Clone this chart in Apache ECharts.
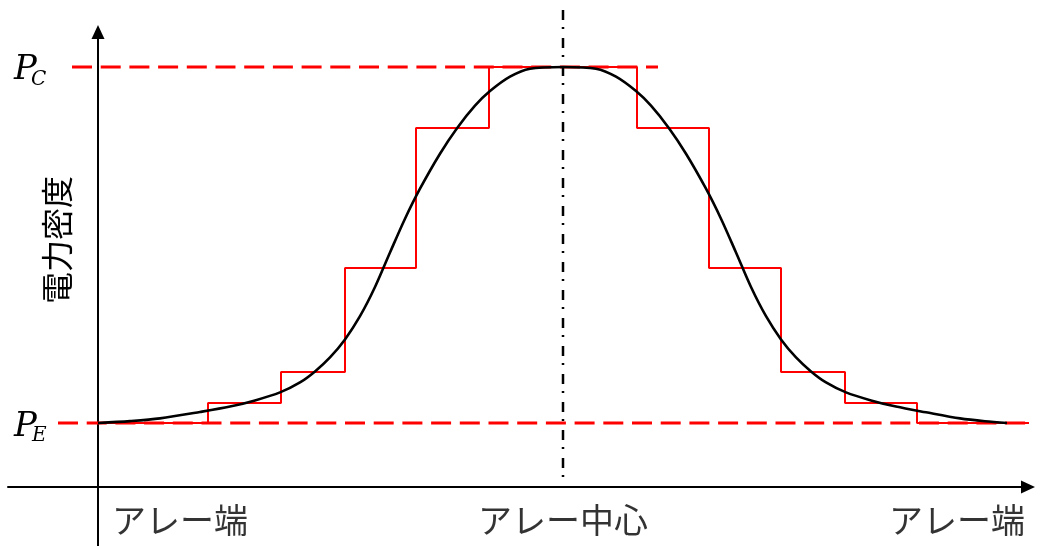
<!DOCTYPE html>
<html>
<head>
<meta charset="utf-8">
<script src="https://cdn.jsdelivr.net/npm/echarts@6/dist/echarts.min.js"></script>
<style>
  html, body { margin: 0; padding: 0; background: #fff; }
  #chart { width: 1043px; height: 546px; }
</style>
</head>
<body>
<div id="chart"></div>
<script>
// Power density profile across an array (schematic units).
// x: position measured from the left array edge, y: power density.
const P_E = 64;    // density at the array edge
const P_C = 420;   // density at the array center
const arrayCenter = 465;

// Segmented (stepped) density profile: segment boundaries and levels
const stepEdges  = [0, 110, 183, 247, 318, 391, 539, 611, 683, 747, 819, 932];
const stepLevels = [P_E, 84, 115, 219, 359, P_C, 359, 219, 115, 84, P_E];

// Continuous density profile
const curveX = [0, 32, 62, 102, 132, 157, 182, 202, 217, 232, 247, 262, 277, 292, 307, 322, 342, 359,
                377, 392, 412, 432, 465,
                498, 518, 538, 553, 571, 588, 608, 623, 638, 653, 668, 683, 698, 713, 728,
                748, 773, 798, 828, 862, 887, 909];
const curveY = [64, 65.9, 68.6, 75, 80.4, 86.6, 94.6, 104.6, 115.6, 129.6, 147.6, 170.8, 200, 234.5,
                268.3, 298.3, 333.3, 358.8, 381.3, 395.9, 410.3, 418.3, 420,
                418.3, 410.3, 395.9, 381.3, 358.8, 333.3, 298.3, 268.3, 234.5, 200, 170.8, 147.6,
                129.6, 115.6, 104.6, 94.6, 86.6, 80.4, 74.7, 68.6, 65.7, 64];

// Extents of the reference level lines and the center line
const pcLineX = [-26, 560];
const peLineX = [-40, 932];
const centerLineY = [477, 0];

// Position labels under the horizontal axis
const xLabels = ['アレー端', 'アレー中心', 'アレー端'];
const xLabelPos = [82, arrayCenter, 859];
const xLabelY = -33;

const RED = '#ff0000';
const BLACK = '#000000';

const stepData = [];
for (let i = 0; i < stepLevels.length; i++) {
  stepData.push([stepEdges[i], stepLevels[i]]);
  stepData.push([stepEdges[i + 1], stepLevels[i]]);
}
const curveData = curveX.map((x, i) => [x, curveY[i]]);

const chart = echarts.init(document.getElementById('chart'), null, { renderer: 'canvas' });

const axisCommon = {
  type: 'value',
  axisLine: {
    show: true,
    onZero: true,
    symbol: ['none', 'triangle'],
    symbolSize: [13, 14],
    lineStyle: { color: BLACK, width: 2 }
  },
  axisTick: { show: false },
  axisLabel: { show: false },
  splitLine: { show: false }
};

chart.setOption({
  animation: false,
  backgroundColor: '#ffffff',
  grid: { left: 8, right: 15, top: 32, bottom: 0, containLabel: false },
  xAxis: Object.assign({}, axisCommon, { min: -90, max: 930 }),
  yAxis: Object.assign({}, axisCommon, { min: -59, max: 455 }),
  series: [
    {
      name: 'P_E',
      type: 'line',
      data: [[peLineX[0], P_E], [peLineX[1], P_E]],
      symbol: 'none',
      lineStyle: { color: RED, width: 3, type: [20, 8.7] },
      z: 3
    },
    {
      name: 'P_C',
      type: 'line',
      data: [[pcLineX[0], P_C], [pcLineX[1], P_C]],
      symbol: 'none',
      lineStyle: { color: RED, width: 3, type: [20, 8.7] },
      z: 3
    },
    {
      name: 'step',
      type: 'line',
      data: stepData,
      symbol: 'none',
      lineStyle: { color: RED, width: 2 },
      z: 2
    },
    {
      name: 'curve',
      type: 'line',
      data: curveData,
      symbol: 'none',
      smooth: 0.3,
      lineStyle: { color: BLACK, width: 2.6 },
      z: 4
    },
    {
      name: 'center',
      type: 'line',
      data: [[arrayCenter, centerLineY[0]], [arrayCenter, centerLineY[1]]],
      symbol: 'none',
      clip: false,
      lineStyle: { color: BLACK, width: 2.5, type: [10, 7, 2, 9] },
      z: 5
    },
    {
      name: 'labels',
      type: 'scatter',
      data: xLabels.map((t, i) => ({ name: t, value: [xLabelPos[i], xLabelY] })),
      symbolSize: 1,
      itemStyle: { color: 'rgba(0,0,0,0)' },
      clip: false,
      label: {
        show: true,
        position: 'inside',
        formatter: p => p.name,
        color: '#000',
        fontSize: 34,
        fontFamily: '"Noto Sans CJK JP", "Noto Sans", sans-serif'
      },
      z: 6
    }
  ],
  graphic: [
    {
      type: 'text', left: 14, top: 53,
      style: { text: 'P', font: 'italic 34px "DejaVu Serif", serif', fill: BLACK }
    },
    {
      type: 'text', left: 31, top: 70,
      style: { text: 'C', font: 'italic 20px "DejaVu Serif", serif', fill: BLACK }
    },
    {
      type: 'text', left: 14, top: 410,
      style: { text: 'P', font: 'italic 34px "DejaVu Serif", serif', fill: BLACK }
    },
    {
      type: 'text', left: 32, top: 426,
      style: { text: 'E', font: 'italic 20px "DejaVu Serif", serif', fill: BLACK }
    },
    {
      type: 'text', x: 57, y: 240, rotation: Math.PI / 2,
      style: {
        text: '電力密度',
        font: '32px "Noto Sans CJK JP", sans-serif',
        fill: '#000',
        align: 'center',
        verticalAlign: 'middle'
      }
    }
  ]
});
</script>
</body>
</html>
